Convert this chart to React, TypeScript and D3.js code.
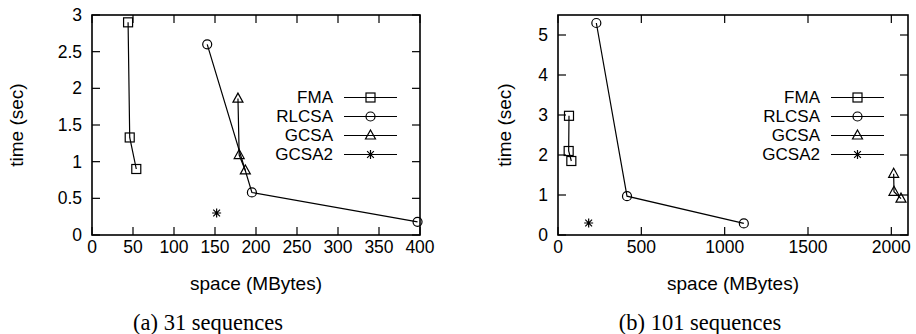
import React from "react";
import * as d3 from "d3";

type Pt = [number, number];

// (a) 31 sequences
const fma31: Pt[] = [[44, 2.9], [46, 1.33], [54, 0.9]];
const rlcsa31: Pt[] = [[140.5, 2.6], [195, 0.58], [397, 0.18]];
const gcsa31: Pt[] = [[178, 1.86], [179.5, 1.09], [187, 0.88]];
const gcsa2_31: Pt[] = [[152, 0.3]];

// (b) 101 sequences
const fma101: Pt[] = [[66, 2.98], [64, 2.1], [80, 1.85]];
const rlcsa101: Pt[] = [[230, 5.3], [414, 0.97], [1115, 0.29]];
const gcsa101: Pt[] = [[2014, 1.53], [2016, 1.08], [2058, 0.91]];
const gcsa2_101: Pt[] = [[184, 0.3]];

const seriesNames = ["FMA", "RLCSA", "GCSA", "GCSA2"];
const markerKinds = ["square", "circle", "triangle", "star"];

const leftXTicks = [0, 50, 100, 150, 200, 250, 300, 350, 400];
const leftYTicks = [0, 0.5, 1, 1.5, 2, 2.5, 3];
const rightXTicks = [0, 500, 1000, 1500, 2000];
const rightYTicks = [0, 1, 2, 3, 4, 5];

const FONT = "'Liberation Sans', Arial, Helvetica, sans-serif";

const Marker = ({ kind, x, y }: { kind: string; x: number; y: number }) => {
  const s = 4.5;
  const st = { fill: "none", stroke: "#000", strokeWidth: 1.2 };
  if (kind === "square") return <rect x={x - s} y={y - s} width={2 * s} height={2 * s} {...st} />;
  if (kind === "circle") return <circle cx={x} cy={y} r={s} {...st} />;
  if (kind === "triangle")
    return <path d={`M${x},${y - s - 1}L${x + s + 0.5},${y + s - 1}L${x - s - 0.5},${y + s - 1}Z`} {...st} />;
  const d = s * 0.75;
  return (
    <path
      d={`M${x - s},${y}H${x + s}M${x},${y - s}V${y + s}M${x - d},${y - d}L${x + d},${y + d}M${x - d},${y + d}L${x + d},${y - d}`}
      {...st}
    />
  );
};

type PanelProps = {
  left: number;
  right: number;
  xDomain: [number, number];
  yDomain: [number, number];
  xTicks: number[];
  yTicks: number[];
  series: Pt[][];
  legendX: number;
  caption: string;
  yLabelX: number;
  captionX: number;
};

const Panel = (p: PanelProps) => {
  const top = 15;
  const bottom = 235;
  const x = d3.scaleLinear().domain(p.xDomain).range([p.left, p.right]);
  const y = d3.scaleLinear().domain(p.yDomain).range([bottom, top]);
  const line = d3.line<Pt>().x((d) => x(d[0])).y((d) => y(d[1]));
  const tl = 8;
  const legendY = [97.5, 116.5, 135.5, 154.5];
  return (
    <g fontFamily={FONT} fontSize={19}>
      {p.xTicks.map((t) => (
        <g key={"x" + t}>
          <line x1={x(t)} x2={x(t)} y1={bottom} y2={bottom - tl} stroke="#000" strokeWidth={1.2} />
          <line x1={x(t)} x2={x(t)} y1={top} y2={top + tl} stroke="#000" strokeWidth={1.2} />
          <text x={x(t)} y={252.5} fontSize={17.5} textAnchor="middle">{t}</text>
        </g>
      ))}
      {p.yTicks.map((t) => (
        <g key={"y" + t}>
          <line x1={p.left} x2={p.left + tl} y1={y(t)} y2={y(t)} stroke="#000" strokeWidth={1.2} />
          <line x1={p.right} x2={p.right - tl} y1={y(t)} y2={y(t)} stroke="#000" strokeWidth={1.2} />
          <text x={p.left - 10} y={y(t)} dy="0.35em" fontSize={17.5} textAnchor="end">{t}</text>
        </g>
      ))}
      <rect x={p.left} y={top} width={p.right - p.left} height={bottom - top} fill="none" stroke="#000" strokeWidth={1.6} />
      {p.series.map((s, i) => (
        <g key={"s" + i}>
          {s.length > 1 && <path d={line(s) || ""} fill="none" stroke="#000" strokeWidth={1.2} />}
          {s.map((d, j) => (
            <Marker key={j} kind={markerKinds[i]} x={x(d[0])} y={y(d[1])} />
          ))}
        </g>
      ))}
      {seriesNames.map((n, i) => (
        <g key={n}>
          <text x={p.legendX} y={legendY[i]} dy="0.35em" fontSize={17} textAnchor="end">{n}</text>
          <line x1={p.legendX + 11} x2={p.legendX + 64} y1={legendY[i]} y2={legendY[i]} stroke="#000" strokeWidth={1.2} />
          <Marker kind={markerKinds[i]} x={p.legendX + 37.5} y={legendY[i]} />
        </g>
      ))}
      <text x={(p.left + p.right) / 2} y={283} dy="0.35em" textAnchor="middle">space (MBytes)</text>
      <text
        transform={`translate(${p.yLabelX},${(top + bottom) / 2}) rotate(-90)`}
        dy="0.35em"
        textAnchor="middle"
      >
        time (sec)
      </text>
      <text
        x={p.captionX}
        y={322}
        dy="0.35em"
        textAnchor="middle"
        fontFamily="'Liberation Serif', 'DejaVu Serif', serif"
        fontSize={22.5}
      >
        {p.caption}
      </text>
    </g>
  );
};

export default function App() {
  return (
    <svg width={916} height={334} style={{ position: "absolute", left: 0, top: 0, background: "#fff" }}>
      <rect width={916} height={334} fill="#fff" />
      <Panel
        left={92}
        right={420}
        xDomain={[0, 400]}
        yDomain={[0, 3]}
        xTicks={leftXTicks}
        yTicks={leftYTicks}
        series={[fma31, rlcsa31, gcsa31, gcsa2_31]}
        legendX={333}
        caption="(a) 31 sequences"
        yLabelX={16}
        captionX={208}
      />
      <Panel
        left={558}
        right={908}
        xDomain={[0, 2100]}
        yDomain={[0, 5.5]}
        xTicks={rightXTicks}
        yTicks={rightYTicks}
        series={[fma101, rlcsa101, gcsa101, gcsa2_101]}
        legendX={820}
        caption="(b) 101 sequences"
        yLabelX={504}
        captionX={700}
      />
    </svg>
  );
}
